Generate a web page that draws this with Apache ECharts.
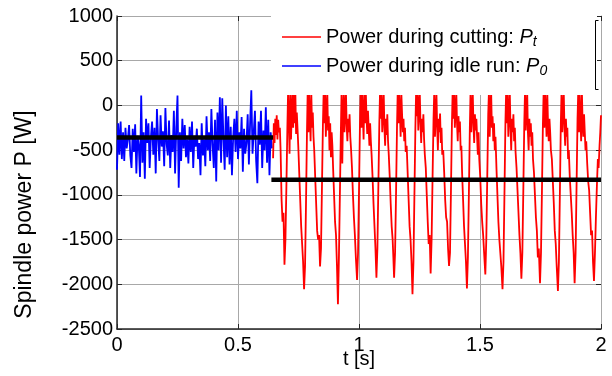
<!DOCTYPE html>
<html>
<head>
<meta charset="utf-8">
<style>html,body{margin:0;padding:0;background:#fff;}#c{width:612px;height:376px;}</style>
<script src="https://cdn.jsdelivr.net/npm/echarts@6/dist/echarts.min.js"></script>
</head>
<body>
<div id="c"></div>
<script>
// ---- data ----
var xTicks = [0, 0.5, 1, 1.5, 2];
var yTicks = [-2500, -2000, -1500, -1000, -500, 0, 500, 1000];
var seriesNames = ['Power during cutting: Pt', 'Power during idle run: P0'];

// idle run: sampled every 0.005 s from t = 0
var idleStart = 0;
var idleStep = 0.005;
var idlePower = [
-720,-200,-550,-180,-600,-300,-620,-250,-480,-380,
-220,-560,-700,-260,-520,-210,-760,-340,-450,-800,
110,-640,-300,-820,-150,-420,-200,-700,-360,-180,
-550,-250,-760,-40,-380,-620,-110,-460,-290,-680,
-30,-430,-560,-170,-700,-330,-520,-60,-760,-250,
110,-920,-300,-620,-150,-480,-220,-580,-380,-650,
-240,-520,-180,-700,-340,-460,-260,-600,-420,-780,
-200,-560,-380,-680,-120,-500,-300,-620,-40,-440,
-700,-160,-850,-80,-500,90,-640,80,-380,-720,
0,-580,-120,-660,-240,-780,-360,-150,-520,-60,
-600,-300,-480,-130,-740,-260,-540,-420,-100,-660,
-200,170,-540,-300,-60,-620,-870,-180,-440,-60,
-700,-280,-500,-20,-640,-160,-780,-300,-480
];

// cutting: [t (s), P (W)]
var cuttingPower = [
[0.645,-590],[0.648,-200],[0.651,-420],[0.654,-150],[0.657,-330],[0.660,-110],[0.663,-380],[0.666,-160],[0.669,-300],[0.673,-250],[0.676,-500],[0.680,-1050],[0.684,-1300],[0.688,-1200],[0.692,-1780],
[0.696,-1500],[0.700,-900],[0.704,-250],[0.707,160],[0.710,-150],[0.713,-540],[0.716,140],[0.719,-380],[0.722,-100],[0.725,160],[0.728,-250],[0.731,120],[0.734,-200],[0.737,150],[0.740,-320],[0.743,-80],[0.746,-260],[0.749,-450],[0.753,-750],[0.757,-1050],[0.761,-1350],[0.765,-1550],[0.769,-1750],[0.773,-2055],
[0.777,-1800],[0.781,-1100],[0.785,-300],[0.788,160],[0.791,-300],[0.794,150],[0.797,-120],[0.800,-400],[0.803,130],[0.806,-250],[0.809,-80],[0.812,-350],[0.815,-500],[0.819,-800],[0.823,-1100],[0.827,-1400],[0.831,-1500],[0.835,-1450],[0.839,-1800],
[0.843,-1600],[0.847,-900],[0.851,-200],[0.854,160],[0.857,-200],[0.860,140],[0.863,-350],[0.866,-60],[0.869,150],[0.872,-280],[0.875,-120],[0.878,-500],[0.881,-200],[0.884,-580],[0.887,-300],[0.890,-450],[0.893,-700],[0.897,-1000],[0.901,-1300],[0.905,-1450],[0.909,-1800],[0.913,-2222],
[0.917,-1700],[0.921,-1000],[0.925,-300],[0.928,160],[0.931,-650],[0.934,-100],[0.937,150],[0.940,-300],[0.943,-80],[0.946,160],[0.949,-220],[0.952,-400],[0.955,-150],[0.958,-300],[0.961,-100],[0.964,-350],[0.967,-480],[0.971,-700],[0.975,-1000],[0.979,-1250],[0.983,-1450],[0.987,-1700],[0.992,-1952],
[0.996,-1650],[1.000,-950],[1.004,-200],[1.007,160],[1.010,-250],[1.013,130],[1.016,-100],[1.019,-380],[1.022,150],[1.025,-200],[1.028,160],[1.031,-120],[1.034,-320],[1.037,-60],[1.040,-250],[1.043,-450],[1.046,-200],[1.049,-400],[1.052,-550],[1.056,-800],[1.060,-1100],[1.064,-1350],[1.068,-1600],[1.072,-1926],
[1.076,-1600],[1.080,-900],[1.084,-200],[1.087,160],[1.090,-150],[1.093,140],[1.096,-300],[1.099,-80],[1.102,150],[1.105,-250],[1.108,-450],[1.111,-150],[1.114,-330],[1.117,-100],[1.120,-400],[1.123,-550],[1.127,-800],[1.131,-1100],[1.135,-1350],[1.139,-1500],[1.142,-1700],[1.145,-1926],
[1.149,-1650],[1.153,-1000],[1.157,-250],[1.160,160],[1.163,-200],[1.166,130],[1.169,-60],[1.172,-350],[1.175,140],[1.178,-100],[1.181,-300],[1.184,-150],[1.187,-400],[1.190,-250],[1.193,-520],[1.197,-450],[1.201,-750],[1.205,-1050],[1.209,-1350],[1.213,-1500],[1.217,-1750],[1.221,-2111],
[1.225,-1750],[1.229,-1000],[1.233,-250],[1.236,160],[1.239,-120],[1.242,150],[1.245,-280],[1.248,-50],[1.251,160],[1.254,-200],[1.257,-420],[1.260,-150],[1.263,-300],[1.266,-100],[1.269,-380],[1.272,-550],[1.276,-700],[1.280,-1000],[1.284,-1300],[1.288,-1550],[1.292,-1450],[1.296,-1878],
[1.300,-1500],[1.304,-800],[1.308,-150],[1.311,160],[1.314,-350],[1.317,-100],[1.320,140],[1.323,-250],[1.326,-500],[1.329,-150],[1.332,-300],[1.335,-90],[1.338,-420],[1.341,-250],[1.344,-550],[1.348,-500],[1.352,-750],[1.356,-1050],[1.360,-1250],[1.364,-1300],[1.368,-1600],[1.372,-1796],
[1.376,-1650],[1.380,-950],[1.384,-200],[1.387,160],[1.390,-150],[1.393,130],[1.396,-250],[1.399,-80],[1.402,160],[1.405,-200],[1.408,-400],[1.411,-120],[1.414,-300],[1.417,-180],[1.420,-500],[1.423,-450],[1.426,-750],[1.430,-1050],[1.434,-1350],[1.438,-1550],[1.442,-1750],[1.446,-2048],
[1.450,-1700],[1.454,-1000],[1.458,-250],[1.461,160],[1.464,-300],[1.467,-60],[1.470,150],[1.473,-220],[1.476,-420],[1.479,-100],[1.482,-280],[1.485,-150],[1.488,-350],[1.491,-550],[1.494,-300],[1.497,-600],[1.501,-800],[1.505,-1100],[1.509,-1300],[1.513,-1450],[1.517,-1650],[1.522,-1889],
[1.526,-1500],[1.530,-800],[1.534,-100],[1.537,160],[1.540,-350],[1.543,-80],[1.546,160],[1.549,-250],[1.552,-120],[1.555,-400],[1.558,-200],[1.561,-500],[1.564,-350],[1.568,-700],[1.572,-1000],[1.576,-1300],[1.580,-1500],[1.584,-1650],[1.588,-1800],[1.593,-2055],
[1.597,-1750],[1.601,-1000],[1.605,-200],[1.608,160],[1.611,-200],[1.614,130],[1.617,-350],[1.620,-100],[1.623,160],[1.626,-250],[1.629,-500],[1.632,-150],[1.635,-300],[1.638,-100],[1.641,-400],[1.644,-250],[1.647,-520],[1.651,-700],[1.655,-950],[1.659,-1200],[1.663,-1450],[1.667,-1650],[1.671,-1937],
[1.675,-1650],[1.679,-950],[1.683,-200],[1.686,160],[1.689,-280],[1.692,-60],[1.695,150],[1.698,-300],[1.701,-500],[1.704,-150],[1.707,-350],[1.710,-200],[1.713,-450],[1.716,-300],[1.719,-600],[1.723,-750],[1.727,-1000],[1.731,-1250],[1.735,-1400],[1.739,-1700],[1.743,-1600],[1.748,-1989],
[1.752,-1650],[1.756,-950],[1.760,-200],[1.763,160],[1.766,-250],[1.769,140],[1.772,-80],[1.775,-350],[1.778,150],[1.781,-200],[1.784,-400],[1.787,-150],[1.790,-300],[1.793,-500],[1.797,-600],[1.801,-850],[1.805,-1100],[1.809,-1400],[1.813,-1550],[1.817,-1800],[1.822,-2074],
[1.826,-1750],[1.830,-1000],[1.834,-200],[1.837,160],[1.840,-300],[1.843,-60],[1.846,160],[1.849,-250],[1.852,-450],[1.855,-150],[1.858,-350],[1.861,-250],[1.864,-600],[1.867,-500],[1.871,-800],[1.875,-1000],[1.879,-1200],[1.883,-1450],[1.887,-1650],[1.891,-1989],
[1.895,-1650],[1.899,-900],[1.903,-150],[1.906,160],[1.909,-300],[1.912,120],[1.915,-150],[1.918,-400],[1.921,160],[1.924,-200],[1.927,-350],[1.930,-100],[1.933,-300],[1.936,-500],[1.939,-400],[1.943,-650],[1.947,-850],[1.951,-950],[1.955,-1200],[1.959,-1450],[1.963,-1400],[1.967,-1750],[1.971,-1963],
[1.975,-1650],[1.979,-1250],[1.983,-900],[1.987,-600],[1.990,-700],[1.994,-450],[1.997,-300],[2.000,-110]
];

// mean power levels
var meanIdleT = [0, 0.645];
var meanIdleP = -360;
var meanCutT = [0.638, 2.0];
var meanCutP = -830;

// ---- chart ----
var FONT = 'Liberation Sans, Arial, sans-serif';
var chart = echarts.init(document.getElementById('c'), null, {renderer: 'canvas'});
var idleData = idlePower.map(function (v, i) { return [idleStart + i * idleStep, v]; });

var option = {
  backgroundColor: '#fff',
  animation: false,
  textStyle: {fontFamily: FONT},
  grid: {left: 117, right: 11, top: 16, bottom: 47, containLabel: false, outerBoundsMode: 'none'},
  xAxis: [{
    type: 'value', min: xTicks[0], max: xTicks[xTicks.length - 1], interval: 0.5,
    name: 't [s]', nameLocation: 'middle', nameGap: 20, nameMoveOverlap: false,
    nameTextStyle: {fontFamily: FONT, fontSize: 20, color: '#000'},
    axisLine: {show: true, onZero: false, lineStyle: {color: '#262626', width: 1.5}},
    axisTick: {show: true, inside: true, length: 5, lineStyle: {color: '#262626'}},
    axisLabel: {fontFamily: FONT, fontSize: 20, color: '#000', margin: 6, formatter: function (v) { return String(v); }},
    splitLine: {show: true, lineStyle: {color: '#a8a8a8', width: 1}}
  }, {
    type: 'value', position: 'top', min: 0, max: 2, interval: 0.5,
    axisLine: {show: true, onZero: false, lineStyle: {color: '#a8a8a8', width: 1}},
    axisTick: {show: true, inside: true, length: 5, lineStyle: {color: '#262626'}},
    axisLabel: {show: false}, splitLine: {show: false}
  }],
  yAxis: [{
    type: 'value', min: yTicks[0], max: yTicks[yTicks.length - 1], interval: 500,
    name: 'Spindle power P [W]', nameLocation: 'middle', nameGap: 81, nameRotate: 90, nameMoveOverlap: false,
    nameTextStyle: {fontFamily: FONT, fontSize: 23, color: '#000', padding: [0, 84, 0, 0]},
    axisLine: {show: true, onZero: false, lineStyle: {color: '#262626', width: 1.5}},
    axisTick: {show: true, inside: true, length: 5, lineStyle: {color: '#262626'}},
    axisLabel: {fontFamily: FONT, fontSize: 20, color: '#000', margin: 4, formatter: function (v) { return String(v); }},
    splitLine: {show: true, lineStyle: {color: '#a8a8a8', width: 1}}
  }, {
    type: 'value', position: 'right', min: -2500, max: 1000, interval: 500,
    axisLine: {show: true, onZero: false, lineStyle: {color: '#a8a8a8', width: 1}},
    axisTick: {show: true, inside: true, length: 5, lineStyle: {color: '#262626'}},
    axisLabel: {show: false}, splitLine: {show: false}
  }],
  legend: {
    show: true, orient: 'vertical', left: 282, top: 25, z: 20,
    padding: 0, itemGap: 5, itemWidth: 39, itemHeight: 14,
    data: seriesNames,
    icon: 'path://M0,0 L39,0 L39,1.4 L0,1.4 Z',
    formatter: function (name) {
      if (name === seriesNames[0]) return '{n|Power during cutting: }{i|P}{s|t}';
      return '{n|Power during idle run: }{i|P}{s|0}';
    },
    textStyle: {
      fontFamily: FONT, fontSize: 20, color: '#000',
      rich: {
        n: {fontFamily: FONT, fontSize: 20, color: '#000', lineHeight: 22},
        i: {fontFamily: FONT, fontSize: 20, fontStyle: 'italic', color: '#000', lineHeight: 22},
        s: {fontFamily: FONT, fontSize: 14, fontStyle: 'italic', color: '#000', padding: [10, 0, 0, 0], lineHeight: 22}
      }
    }
  },
  graphic: {
    elements: [
      {type: 'rect', left: 271, top: 14, z: 10, shape: {width: 326, height: 81}, style: {fill: '#fff'}},
      {type: 'polyline', z: 11, shape: {points: [[598.5, 20.5], [595.5, 20.5], [595.5, 89.5], [598.5, 89.5]]}, style: {stroke: '#000', lineWidth: 1, fill: null}}
    ]
  },
  series: [
    {
      name: seriesNames[1], type: 'line', data: idleData, xAxisIndex: 0, yAxisIndex: 0,
      showSymbol: false, symbol: 'none', z: 2,
      lineStyle: {color: '#0000ff', width: 1.8}, itemStyle: {color: '#0000ff'}
    },
    {
      name: seriesNames[0], type: 'line', data: cuttingPower, xAxisIndex: 0, yAxisIndex: 0,
      showSymbol: false, symbol: 'none', z: 3,
      lineStyle: {color: '#ff0000', width: 1.8}, itemStyle: {color: '#ff0000'}
    },
    {
      name: 'meanIdle', type: 'line', xAxisIndex: 0, yAxisIndex: 0,
      data: meanIdleT.map(function (t) { return [t, meanIdleP]; }),
      showSymbol: false, symbol: 'none', z: 5,
      lineStyle: {color: '#000', width: 4.5}
    },
    {
      name: 'meanCut', type: 'line', xAxisIndex: 0, yAxisIndex: 0,
      data: meanCutT.map(function (t) { return [t, meanCutP]; }),
      showSymbol: false, symbol: 'none', z: 5,
      lineStyle: {color: '#000', width: 4.5}
    }
  ]
};
chart.setOption(option);
</script>
</body>
</html>
